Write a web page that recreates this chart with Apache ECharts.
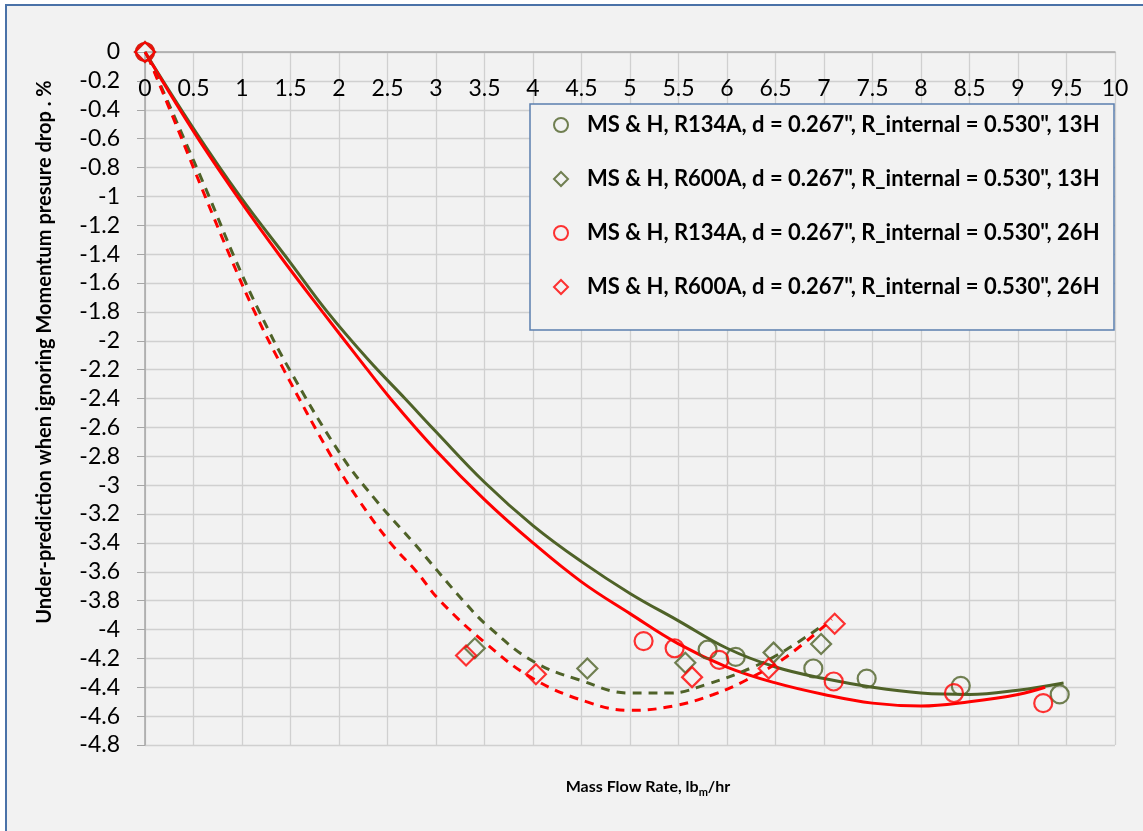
<!DOCTYPE html>
<html>
<head>
<meta charset="utf-8">
<script src="https://cdn.jsdelivr.net/npm/echarts@6/dist/echarts.min.js"></script>
<style>
html,body{margin:0;padding:0;background:#ffffff;}
#chart{width:1143px;height:831px;}
</style>
</head>
<body>
<div id="chart"></div>
<script>
// ---------- data ----------
const seriesNames = [
  'MS & H, R134A, d = 0.267", R_internal = 0.530", 13H',
  'MS & H, R600A, d = 0.267", R_internal = 0.530", 13H',
  'MS & H, R134A, d = 0.267", R_internal = 0.530", 26H',
  'MS & H, R600A, d = 0.267", R_internal = 0.530", 26H'
];
// measured points [mass flow rate, under-prediction %]
const r134a13H = [[0,0],[5.80,-4.14],[6.09,-4.19],[6.89,-4.27],[7.44,-4.34],[8.41,-4.39],[9.43,-4.45]];
const r600a13H = [[0,0],[3.40,-4.13],[4.56,-4.27],[5.57,-4.23],[6.48,-4.16],[6.97,-4.10]];
const r134a26H = [[0,0],[5.14,-4.08],[5.46,-4.13],[5.92,-4.21],[7.10,-4.36],[8.34,-4.44],[9.26,-4.51]];
const r600a26H = [[0,0],[3.31,-4.18],[4.03,-4.31],[5.64,-4.33],[6.43,-4.27],[7.11,-3.96]];
// trend curves, points
const trend134a13H = [[0,0],[0.5,-0.53],[0.98,-1.0],[1.5,-1.46],[1.88,-1.8],[2.3,-2.13],[2.68,-2.4],[3.0,-2.63],[3.5,-2.98],[4.0,-3.28],[4.5,-3.53],[5.0,-3.75],[5.5,-3.94],[6.0,-4.13],[6.5,-4.26],[7.0,-4.34],[7.5,-4.40],[8.0,-4.44],[8.5,-4.45],[9.0,-4.42],[9.47,-4.37]];
const trend134a26H = [[0,0],[0.5,-0.55],[0.95,-1.0],[1.4,-1.42],[1.83,-1.8],[2.2,-2.12],[2.53,-2.4],[3.0,-2.76],[3.5,-3.10],[4.0,-3.40],[4.5,-3.67],[5.0,-3.89],[5.5,-4.10],[6.0,-4.26],[6.5,-4.37],[7.0,-4.45],[7.5,-4.51],[8.0,-4.53],[8.5,-4.50],[9.0,-4.45],[9.28,-4.40]];
const trend600a13H = [[0.03,-0.03],[0.35,-0.52],[0.66,-1.0],[0.92,-1.42],[1.18,-1.8],[1.49,-2.2],[2.03,-2.8],[2.4,-3.12],[2.77,-3.4],[3.28,-3.8],[3.54,-3.98],[4.0,-4.22],[4.48,-4.35],[5.0,-4.44],[5.41,-4.44],[5.79,-4.38],[6.27,-4.26],[6.61,-4.14],[6.97,-3.98]];
const trend600a26H = [[0.03,-0.03],[0.33,-0.52],[0.62,-1.0],[0.88,-1.42],[1.13,-1.8],[1.43,-2.2],[1.92,-2.8],[2.2,-3.1],[2.53,-3.4],[2.80,-3.6],[3.04,-3.8],[3.52,-4.10],[4.0,-4.34],[4.55,-4.50],[5.0,-4.56],[5.45,-4.53],[5.86,-4.45],[6.20,-4.35],[6.61,-4.19],[7.08,-3.93]];
const yTitle = 'Under-prediction when ignoring Momentum presure drop . %';
const xTitle = 'Mass Flow Rate, lb{sub|m}/hr';

// ---------- styles ----------
const GREEN = '#4f6228';
const RED = '#ff0000';
const FONT = 'Lato';

function scatter(name, data, color, symbol, size, z) {
  return {
    name: name, type: 'scatter', data: data, symbol: symbol, symbolSize: size, z: z,
    itemStyle: { color: 'rgba(0,0,0,0)', borderColor: color, borderWidth: 2.2 },
    emphasis: { disabled: true }
  };
}
function trend(data, color, dashed) {
  return {
    type: 'line', data: data, smooth: 0.4, showSymbol: false, z: 2,
    lineStyle: { color: color, width: 3, type: dashed ? [9, 7] : 'solid' },
    emphasis: { disabled: true }, silent: true
  };
}

const chart = echarts.init(document.getElementById('chart'), null, { renderer: 'canvas' });
chart.setOption({
  animation: false,
  backgroundColor: 'transparent',
  grid: { left: 145, right: 28, top: 52, bottom: 86, containLabel: false },
  xAxis: {
    type: 'value', position: 'top', min: 0, max: 10, interval: 0.5,
    axisLine: { onZero: false, lineStyle: { color: '#a6a6a6', width: 1.5 } },
    axisTick: { show: false },
    axisLabel: { inside: true, margin: 25, fontFamily: FONT, fontSize: 23, color: '#000' },
    splitLine: { lineStyle: { color: '#d0d0d0', width: 1.3 } }
  },
  yAxis: {
    type: 'value', min: -4.8, max: 0, interval: 0.2,
    axisLine: { show: true, onZero: false, lineStyle: { color: '#a6a6a6', width: 1.5 } },
    axisTick: { show: true, length: 8, lineStyle: { color: '#a6a6a6' } },
    axisLabel: { margin: 25, fontFamily: FONT, fontSize: 23, color: '#000',
      formatter: v => (Math.round(v * 10) / 10).toString() },
    splitLine: { lineStyle: { color: '#d0d0d0', width: 1.3 } }
  },
  legend: {
    data: seriesNames, orient: 'vertical', left: 553, top: 112, padding: 0,
    itemWidth: 14, itemHeight: 14, itemGap: 28, selectedMode: false, symbolKeepAspect: true,
    textStyle: { fontFamily: FONT, fontWeight: 'bold', fontSize: 22, color: '#000', lineHeight: 26,
      padding: [0, 0, 0, 14] }
  },
  graphic: [
    { type: 'rect', z: -100, shape: { x: 6, y: 5, width: 1150, height: 840 },
      style: { fill: '#f2f2f2', stroke: '#4a72a8', lineWidth: 2 } },
    { type: 'rect', z: 3, shape: { x: 530, y: 104, width: 584, height: 226 },
      style: { fill: '#f2f2f2', stroke: '#5b7fae', lineWidth: 1.5 } },
    { type: 'text', z: 5, x: 45, y: 352, rotation: Math.PI / 2,
      style: { text: yTitle, font: 'bold 20px ' + FONT, fill: '#000', textAlign: 'center', textVerticalAlign: 'middle' } },
    { type: 'text', z: 5, x: 648, y: 787,
      style: { text: xTitle, font: 'bold 16px ' + FONT, fill: '#000', textAlign: 'center', textVerticalAlign: 'middle',
        rich: { sub: { fontSize: 11, fontWeight: 'bold', fontFamily: FONT, padding: [10, 0, 0, 0] } } } }
  ],
  series: [
    trend(trend134a13H, GREEN, false),
    trend(trend134a26H, RED, false),
    trend(trend600a13H, GREEN, true),
    trend(trend600a26H, RED, true),
    scatter(seriesNames[0], r134a13H, GREEN, 'circle', 18, 4),
    scatter(seriesNames[1], r600a13H, GREEN, 'diamond', 20, 4),
    scatter(seriesNames[2], r134a26H, RED, 'circle', 18, 5),
    scatter(seriesNames[3], r600a26H, RED, 'diamond', 20, 6)
  ]
});
</script>
</body>
</html>
